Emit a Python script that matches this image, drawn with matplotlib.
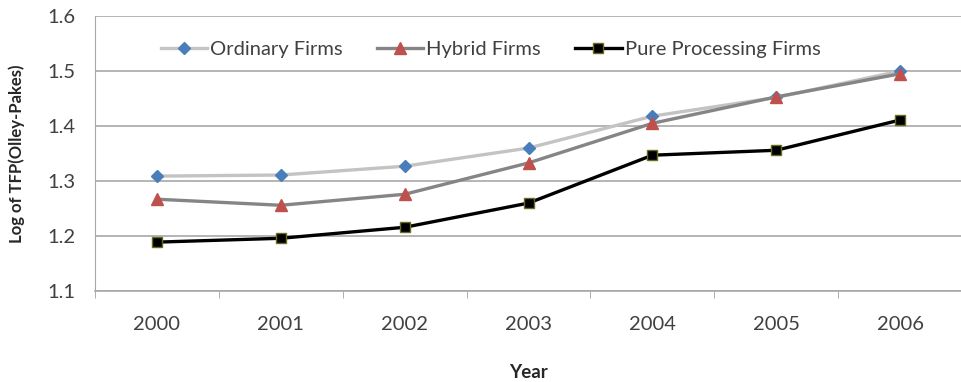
import matplotlib
matplotlib.use("Agg")
import matplotlib.pyplot as plt

years = ["2000", "2001", "2002", "2003", "2004", "2005", "2006"]
ordinary = [1.309, 1.311, 1.327, 1.360, 1.418, 1.452, 1.500]
hybrid = [1.267, 1.256, 1.276, 1.333, 1.405, 1.453, 1.495]
pure = [1.189, 1.196, 1.216, 1.260, 1.347, 1.356, 1.411]
yticks = [1.1, 1.2, 1.3, 1.4, 1.5, 1.6]

plt.rcParams['font.family'] = ['Lato', 'DejaVu Sans']

fig = plt.figure(figsize=(9.62, 3.82), dpi=100)
ax = fig.add_axes([0.0988, 0.238, 0.9012, 0.72])
x = list(range(len(years)))

ax.plot(x, ordinary, color='#c3c3c3', lw=2.4, marker='D', ms=6,
        mfc='#4a7ebb', mec='#4a7ebb', label='Ordinary Firms', zorder=3)
ax.plot(x, hybrid, color='#858585', lw=2.4, marker='^', ms=8,
        mfc='#c0504d', mec='#c0504d', label='Hybrid Firms', zorder=4)
ax.plot(x, pure, color='black', lw=2.4, marker='s', ms=7,
        mfc='black', mec='#6b6b20', label='Pure Processing Firms', zorder=5)

ax.set_xlim(-0.5, 6.5)
ax.set_ylim(1.1, 1.6)
ax.set_yticks(yticks)
ax.set_yticklabels([f"{v:.1f}" for v in yticks])
ax.set_xticks(x)
ax.set_xticklabels(years)
ax.set_xticks([i - 0.5 for i in range(len(years) + 1)], minor=True)
ax.tick_params(axis='x', which='major', length=0, pad=18, labelsize=14.5, labelcolor='#404040')
ax.tick_params(axis='x', which='minor', length=5, color='#a0a0a0', direction='out')
ax.tick_params(axis='y', length=0, pad=14, labelsize=14.5, labelcolor='#404040')
ax.grid(axis='y', color='#a8a8a8', lw=1.2)
ax.set_axisbelow(True)
for s in ['top', 'right']:
    ax.spines[s].set_visible(False)
ax.spines['left'].set_color('#a8a8a8')
ax.spines['bottom'].set_color('#a8a8a8')
ax.spines['bottom'].set_linewidth(1.2)

ax.set_ylabel('Log of TFP(Olley-Pakes)', fontsize=12, fontweight='bold', color='#262626', labelpad=16)
ax.set_xlabel('Year', fontsize=13.5, fontweight='bold', color='#262626', labelpad=22)

leg = ax.legend(loc='upper left', bbox_to_anchor=(0.055, 0.975), ncol=3, frameon=False,
                fontsize=14.5, handlelength=2.3, columnspacing=1.7, handletextpad=0.15)
for t in leg.get_texts():
    t.set_color('#404040')

fig.savefig('out.png', dpi=100)
